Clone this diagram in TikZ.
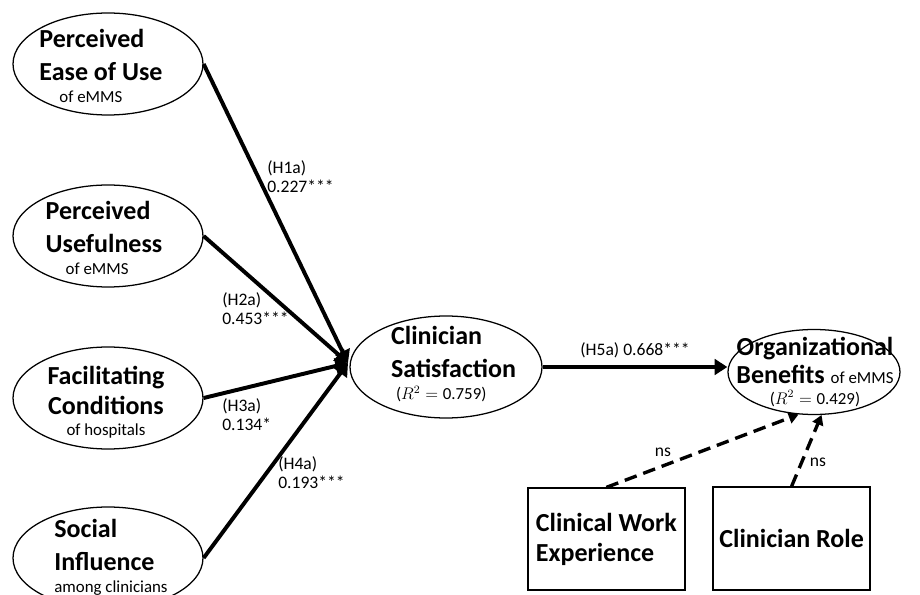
\documentclass[tikz,border=0pt]{standalone}
\usepackage{fontspec}
\setmainfont{Carlito}
\usetikzlibrary{shapes.geometric,arrows.meta}
\newcommand{\subtxt}[1]{{\fontsize{12}{14}\selectfont\mdseries #1}}
\begin{document}
\begin{tikzpicture}[every node/.style={font=\fontsize{12.5}{13.5}\selectfont},
  cons/.style={draw, ellipse, line width=0.9pt, minimum width=4.75cm, minimum height=2.55cm, inner sep=0pt},
  ctrl/.style={draw, line width=0.9pt, minimum width=3.925cm, minimum height=2.55cm, align=left, font=\fontsize{18.5}{23.5}\selectfont\bfseries},
  lbl/.style={align=left, font=\fontsize{18.5}{23.5}\selectfont\bfseries, inner sep=0pt},
  coef/.style={align=left, anchor=north west, inner sep=0pt},
  effect/.style={line width=2.8pt, -{Triangle[length=9pt,width=11pt]}},
  ctrlfx/.style={line width=2.4pt, dash pattern=on 9pt off 5pt, -{Triangle[length=7pt,width=8pt]}}]
\clip[use as bounding box] (0,0) rectangle (23,-14.875);
\node[cons] (peou) at (2.7,-1.6) {};
\node[cons] (pu) at (2.7,-5.9) {};
\node[cons] (fc) at (2.7,-9.95) {};
\node[cons] (si) at (2.7,-13.95) {};
\node[cons, minimum width=4.8cm] (cs) at (11.15,-9.175) {};
\node[cons, minimum width=4.3cm, minimum height=2.125cm] (ob) at (20.35,-9.3) {};
\node[lbl] (peou-t) at (2.525,-1.65) {Perceived\\Ease of Use\\[-7.9pt]\hspace{0.5cm}\subtxt{of eMMS}};
\node[lbl] (pu-t) at (2.6,-5.94) {Perceived\\Usefulness\\[-7.9pt]\hspace{0.5cm}\subtxt{of eMMS}};
\node[lbl, align=center] (fc-t) at (2.65,-10.05) {Facilitating\\[-2pt]Conditions\\[-8.5pt]\subtxt{of hospitals}};
\node[lbl] (si-t) at (2.775,-13.925) {Social\\Influence\\[-7.9pt]\subtxt{among clinicians}};
\node[lbl] (cs-t) at (11.34,-9.1) {Clinician\\Satisfaction\\[-7.9pt]\hspace{0.125cm}\subtxt{(\(R^{2}={}\)0.759)}};
\node[lbl, align=center] (ob-t) at (20.375,-9.3) {Organizational\\[-3.6pt]Benefits \subtxt{of eMMS}\\[-9.2pt]\subtxt{(\(R^{2}={}\)0.429)}};
\node[ctrl] (cwe) at (15.16,-13.475) {Clinical Work\\[-2.2pt]Experience};
\node[ctrl, minimum height=2.575cm] (cr) at (19.79,-13.46) {Clinician Role};
\coordinate (hub) at (8.7,-9.075);
\draw[effect] (peou.east) -- (hub);
\draw[effect] (pu.east) -- (hub);
\draw[effect] (fc.east) -- (hub);
\draw[effect] (si.east) -- (hub);
\draw[effect] (cs.east) -- (cs.east -| ob.west) node[midway, above=2pt] (h5) {(H5a) 0.668***};
\draw[ctrlfx] (cwe.north) -- (ob.250);
\draw[ctrlfx] (cr.north) -- (ob.280);
\node[coef] (h1) at (6.675,-4.0) {(H1a)\\0.227***};
\node[coef] (h2) at (5.55,-7.3) {(H2a)\\0.453***};
\node[coef] (h3) at (5.55,-9.95) {(H3a)\\0.134*};
\node[coef] (h4) at (6.95,-11.4) {(H4a)\\0.193***};
\node (ns1) at (16.575,-11.3) {ns};
\node (ns2) at (20.45,-11.55) {ns};
\end{tikzpicture}
\end{document}
